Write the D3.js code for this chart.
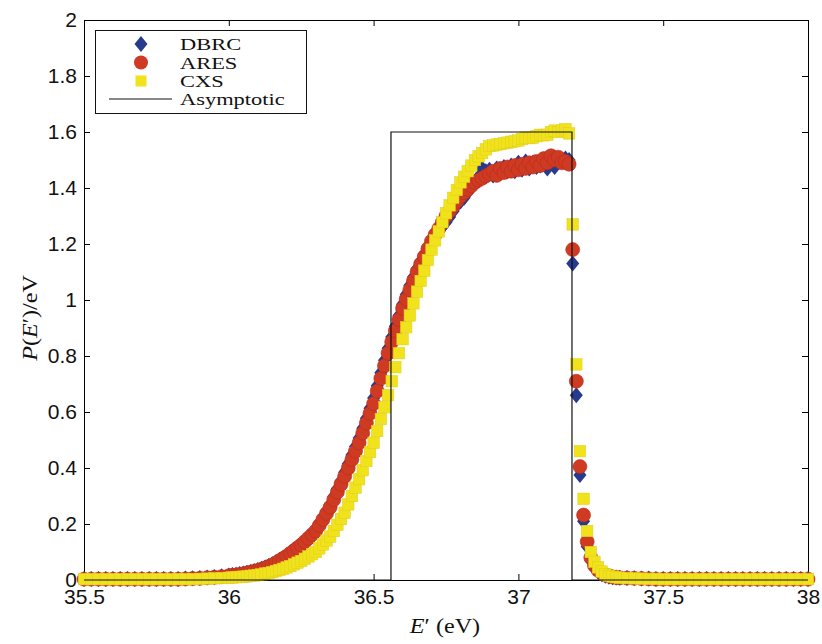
<!DOCTYPE html>
<html>
<head>
<meta charset="utf-8">
<script src="https://cdn.jsdelivr.net/npm/d3@7"></script>
<style>
  body { margin: 0; background: #fff; }
  svg { display: block; }
  .tick text { font-family: "Liberation Sans", Arial, sans-serif; font-size: 21px; fill: #111; }
  .serif { font-family: "Liberation Serif", "Times New Roman", serif; fill: #111; }
</style>
</head>
<body>
<svg width="822" height="644"></svg>
<script>
// energies (eV), coarse in the flat tails, fine across the transition
const energy = [
  35.5, 35.525, 35.55, 35.575, 35.6, 35.625, 35.65, 35.675, 35.7, 35.725,
  35.75, 35.775, 35.8, 35.825, 35.85, 35.875, 35.9, 35.925, 35.95, 35.975,
  36, 36.0125, 36.025, 36.0375, 36.05, 36.0625, 36.075, 36.0875,
  36.1, 36.1125, 36.125, 36.1375, 36.15, 36.1625, 36.175, 36.1875,
  36.2, 36.2125, 36.225, 36.2375, 36.25, 36.2625, 36.275, 36.2875,
  36.3, 36.3125, 36.325, 36.3375, 36.35, 36.3625, 36.375, 36.3875,
  36.4, 36.4125, 36.425, 36.4375, 36.45, 36.4625, 36.475, 36.4875,
  36.5, 36.5125, 36.525, 36.5375, 36.55, 36.5625, 36.575, 36.5875,
  36.6, 36.6125, 36.625, 36.6375, 36.65, 36.6625, 36.675, 36.6875,
  36.7, 36.7125, 36.725, 36.7375, 36.75, 36.7625, 36.775, 36.7875,
  36.8, 36.8125, 36.825, 36.8375, 36.85, 36.8625, 36.875, 36.8875,
  36.9, 36.9125, 36.925, 36.9375, 36.95, 36.9625, 36.975, 36.9875,
  37, 37.0125, 37.025, 37.0375, 37.05, 37.0625, 37.075, 37.0875,
  37.1, 37.1125, 37.125, 37.1375, 37.15, 37.1625, 37.175, 37.1875,
  37.2, 37.2125, 37.225, 37.2375, 37.25, 37.2625, 37.275, 37.2875,
  37.3, 37.3125, 37.325, 37.3375, 37.35,
  37.375, 37.4, 37.425, 37.45, 37.475, 37.5, 37.525, 37.55, 37.575, 37.6,
  37.625, 37.65, 37.675, 37.7, 37.725, 37.75, 37.775, 37.8, 37.825, 37.85,
  37.875, 37.9, 37.925, 37.95, 37.975, 38
];

const dbrc = [
  0.004, 0.004, 0.004, 0.004, 0.004, 0.004, 0.004, 0.004, 0.004, 0.004,
  0.004, 0.004, 0.004, 0.004, 0.005, 0.006, 0.007, 0.009, 0.011, 0.013,
  0.016, 0.018, 0.019, 0.021, 0.023, 0.026, 0.029, 0.032,
  0.036, 0.040, 0.045, 0.050, 0.056, 0.063, 0.071, 0.079,
  0.088, 0.098, 0.108, 0.118, 0.129, 0.141, 0.153, 0.166,
  0.180, 0.202, 0.224, 0.246, 0.270, 0.298, 0.326, 0.354,
  0.385, 0.415, 0.446, 0.477, 0.507, 0.542, 0.578, 0.613,
  0.650, 0.694, 0.740, 0.785, 0.828, 0.868, 0.906, 0.945,
  0.985, 1.020, 1.052, 1.082, 1.112, 1.138, 1.163, 1.190,
  1.212, 1.228, 1.245, 1.262, 1.278, 1.296, 1.318, 1.340,
  1.352, 1.365, 1.385, 1.405, 1.420, 1.440, 1.470, 1.460,
  1.465, 1.445, 1.470, 1.455, 1.475, 1.460, 1.480, 1.460,
  1.490, 1.465, 1.495, 1.470, 1.490, 1.475, 1.480, 1.490,
  1.470, 1.490, 1.475, 1.495, 1.500, 1.505, 1.500, 1.130,
  0.660, 0.375, 0.210, 0.120, 0.070, 0.045, 0.030, 0.021,
  0.015, 0.012, 0.010, 0.009, 0.008,
  0.007, 0.006, 0.005, 0.005, 0.004, 0.004, 0.004, 0.004, 0.004, 0.004,
  0.004, 0.004, 0.004, 0.004, 0.004, 0.004, 0.004, 0.004, 0.004, 0.004,
  0.004, 0.004, 0.004, 0.004, 0.004, 0.004
];

const ares = [
  0.003, 0.003, 0.003, 0.003, 0.003, 0.003, 0.003, 0.003, 0.003, 0.003,
  0.003, 0.003, 0.003, 0.003, 0.004, 0.005, 0.006, 0.008, 0.010, 0.012,
  0.015, 0.017, 0.018, 0.020, 0.022, 0.025, 0.028, 0.031,
  0.034, 0.038, 0.043, 0.048, 0.054, 0.061, 0.069, 0.077,
  0.085, 0.095, 0.105, 0.115, 0.125, 0.137, 0.149, 0.162,
  0.175, 0.195, 0.216, 0.238, 0.260, 0.287, 0.314, 0.342,
  0.370, 0.400, 0.430, 0.460, 0.490, 0.525, 0.560, 0.595,
  0.630, 0.675, 0.720, 0.765, 0.810, 0.850, 0.890, 0.930,
  0.970, 1.003, 1.036, 1.068, 1.100, 1.128, 1.155, 1.183,
  1.210, 1.233, 1.255, 1.278, 1.300, 1.318, 1.335, 1.353,
  1.370, 1.383, 1.395, 1.408, 1.420, 1.428, 1.435, 1.443,
  1.450, 1.460, 1.445, 1.470, 1.455, 1.475, 1.460, 1.480,
  1.465, 1.485, 1.470, 1.490, 1.475, 1.495, 1.480, 1.505,
  1.490, 1.515, 1.500, 1.510, 1.490, 1.495, 1.485, 1.180,
  0.710, 0.405, 0.232, 0.137, 0.080, 0.052, 0.035, 0.025,
  0.018, 0.014, 0.011, 0.009, 0.008,
  0.007, 0.006, 0.005, 0.004, 0.003, 0.003, 0.003, 0.003, 0.003, 0.003,
  0.003, 0.003, 0.003, 0.003, 0.003, 0.003, 0.003, 0.003, 0.003, 0.003,
  0.003, 0.003, 0.003, 0.003, 0.003, 0.003
];

const cxs = [
  0.003, 0.003, 0.003, 0.003, 0.003, 0.003, 0.003, 0.003, 0.003, 0.003,
  0.003, 0.003, 0.003, 0.003, 0.003, 0.003, 0.004, 0.005, 0.006, 0.007,
  0.008, 0.009, 0.010, 0.011, 0.012, 0.013, 0.015, 0.016,
  0.018, 0.020, 0.023, 0.025, 0.028, 0.032, 0.036, 0.040,
  0.045, 0.050, 0.056, 0.062, 0.068, 0.076, 0.084, 0.092,
  0.100, 0.113, 0.127, 0.141, 0.155, 0.175, 0.197, 0.218,
  0.240, 0.270, 0.300, 0.330, 0.360, 0.392, 0.425, 0.457,
  0.490, 0.532, 0.575, 0.617, 0.660, 0.710, 0.760, 0.810,
  0.860, 0.903, 0.945, 0.988, 1.030, 1.068, 1.105, 1.143,
  1.180, 1.213, 1.245, 1.278, 1.310, 1.338, 1.365, 1.393,
  1.420, 1.440, 1.460, 1.480, 1.500, 1.513, 1.525, 1.538,
  1.550, 1.552, 1.555, 1.557, 1.560, 1.562, 1.565, 1.567,
  1.570, 1.575, 1.580, 1.578, 1.580, 1.585, 1.590, 1.588,
  1.590, 1.600, 1.605, 1.600, 1.605, 1.610, 1.595, 1.270,
  0.770, 0.460, 0.290, 0.175, 0.100, 0.065, 0.045, 0.030,
  0.020, 0.015, 0.012, 0.010, 0.008,
  0.007, 0.006, 0.005, 0.004, 0.004, 0.003, 0.003, 0.003, 0.003, 0.003,
  0.003, 0.003, 0.003, 0.003, 0.003, 0.003, 0.003, 0.003, 0.003, 0.003,
  0.003, 0.003, 0.003, 0.003, 0.003, 0.003
];

// asymptotic box shape
const asymE = [35.5, 36.56, 36.56, 37.185, 37.185, 38];
const asymP = [0, 0, 1.6, 1.6, 0, 0];

const xTicks = [35.5, 36, 36.5, 37, 37.5, 38];
const yTicks = [0, 0.2, 0.4, 0.6, 0.8, 1, 1.2, 1.4, 1.6, 1.8, 2];
const legendLabels = ["DBRC", "ARES", "CXS", "Asymptotic"];

const colBlue = "#263a8e", colRed = "#cf3a22", colYellow = "#f0e31c";

const svg = d3.select("svg");
const mLeft = 84, mRight = 808, mTop = 20, mBottom = 580;

const x = d3.scaleLinear().domain([35.5, 38]).range([mLeft, mRight]);
const y = d3.scaleLinear().domain([0, 2]).range([mBottom, mTop]);
const fmt = d3.format("~g");

// ejes (ticks hacia dentro en los cuatro lados)
svg.append("g").attr("transform", `translate(0,${mBottom})`).style("color", "#000")
  .call(d3.axisBottom(x).tickValues(xTicks).tickFormat(fmt).tickSizeInner(-6).tickSizeOuter(0).tickPadding(9));
svg.append("g").attr("transform", `translate(0,${mTop})`).style("color", "#000")
  .call(d3.axisTop(x).tickValues(xTicks).tickFormat("").tickSizeInner(-6).tickSizeOuter(0));
svg.append("g").attr("transform", `translate(${mLeft},0)`).style("color", "#000")
  .call(d3.axisLeft(y).tickValues(yTicks).tickFormat(fmt).tickSizeInner(-6).tickSizeOuter(0).tickPadding(7));
svg.append("g").attr("transform", `translate(${mRight},0)`).style("color", "#000")
  .call(d3.axisRight(y).tickValues(yTicks).tickFormat("").tickSizeInner(-6).tickSizeOuter(0));

const points = energy.map((e, i) => ({ e: e, d: dbrc[i], a: ares[i], c: cxs[i] }));

const diamond = "M0,-8L6.5,0L0,8L-6.5,0Z";
const sq = 11.5;

// DBRC
svg.append("g").selectAll("path").data(points).join("path")
  .attr("d", diamond)
  .attr("transform", p => `translate(${x(p.e)},${y(p.d)})`)
  .attr("fill", colBlue);

// ARES
svg.append("g").selectAll("circle").data(points).join("circle")
  .attr("cx", p => x(p.e)).attr("cy", p => y(p.a)).attr("r", 7)
  .attr("fill", colRed).attr("stroke", "#b82e1c").attr("stroke-width", 0.6);

// CXS
svg.append("g").selectAll("rect").data(points).join("rect")
  .attr("x", p => x(p.e) - sq / 2).attr("y", p => y(p.c) - sq / 2)
  .attr("width", sq).attr("height", sq)
  .attr("fill", colYellow).attr("stroke", "#e2cc1c").attr("stroke-width", 0.5);

// Asymptotic
const line = d3.line().x(d => x(d[0])).y(d => y(d[1]));
svg.append("path").datum(asymE.map((e, i) => [e, asymP[i]]))
  .attr("d", line).attr("fill", "none").attr("stroke", "#111").attr("stroke-width", 1.2);

// Leyenda
const lg = svg.append("g");
lg.append("rect").attr("x", 95.5).attr("y", 30.5).attr("width", 211).attr("height", 83)
  .attr("fill", "#fff").attr("stroke", "#111").attr("stroke-width", 1);
const rowY = [44, 62.5, 81, 99];
lg.append("path").attr("d", diamond).attr("transform", `translate(141,${rowY[0]})`).attr("fill", colBlue);
lg.append("circle").attr("cx", 141).attr("cy", rowY[1]).attr("r", 7).attr("fill", colRed);
lg.append("rect").attr("x", 141 - 5.5).attr("y", rowY[2] - 5.5).attr("width", 11).attr("height", 11).attr("fill", colYellow);
lg.append("line").attr("x1", 109).attr("x2", 172).attr("y1", rowY[3]).attr("y2", rowY[3])
  .attr("stroke", "#111").attr("stroke-width", 1.2);
legendLabels.forEach((t, i) => {
  lg.append("text").attr("class", "serif")
    .attr("transform", `translate(180,${rowY[i] + 6}) scale(1.32,1.02)`)
    .style("font-size", "17px").text(t);
});

// Títulos de ejes
const xl = svg.append("text").attr("class", "serif")
  .attr("transform", "translate(445,633) scale(1.15,1)")
  .attr("text-anchor", "middle").style("font-size", "21px");
xl.append("tspan").style("font-style", "italic").text("E");
xl.append("tspan").text("\u2032 (eV)");

const yl = svg.append("text").attr("class", "serif")
  .attr("transform", "translate(37,318) rotate(-90) scale(1.15,1)")
  .attr("text-anchor", "middle").style("font-size", "21px");
yl.append("tspan").style("font-style", "italic").text("P");
yl.append("tspan").text("(");
yl.append("tspan").style("font-style", "italic").text("E");
yl.append("tspan").text("\u2032)/eV");
</script>
</body>
</html>
